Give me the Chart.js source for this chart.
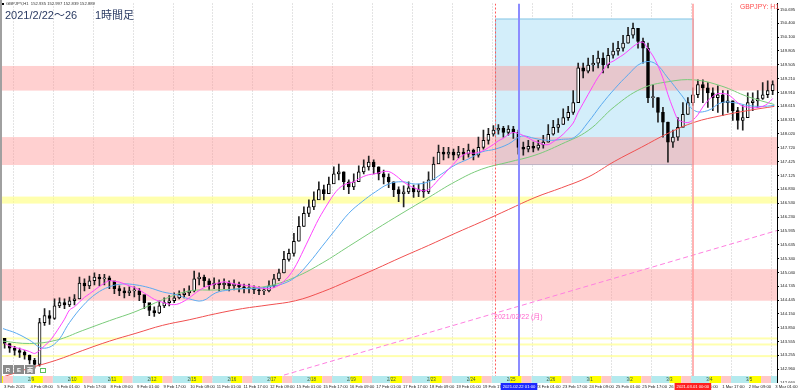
<!DOCTYPE html>
<html lang="ja">
<head>
<meta charset="UTF-8">
<title>GBPJPY H1</title>
<script src="https://cdn.jsdelivr.net/npm/chart.js"></script>
<style>
  html, body { margin: 0; padding: 0; background: #fff; }
  canvas { display: block; }
</style>
</head>
<body>
<canvas id="chart" width="800" height="390"></canvas>
<script>
// ---- データ (3時間ごとのローソク足、値はチャートから読み取り) ----
const barStep = 3;
const firstOpen = 143.62;
const closes = [
  143.51,143.41,143.36,143.32,143.26,143.15,143.06,143.96,144.11,144.05,
  144.32,144.39,144.34,144.43,144.47,144.81,144.75,144.86,144.94,144.90,
  144.92,144.86,144.69,144.64,144.60,144.64,144.64,144.56,144.39,144.22,
  144.17,144.32,144.39,144.43,144.49,144.56,144.60,144.64,144.90,144.94,
  144.86,144.77,144.81,144.77,144.81,144.75,144.79,144.73,144.69,144.71,
  144.66,144.64,144.64,144.75,144.90,145.03,145.32,145.45,145.71,146.03,
  146.31,146.45,146.60,146.82,146.73,146.94,147.16,147.20,146.99,146.88,
  146.99,147.20,147.31,147.41,147.31,147.16,147.09,146.99,146.82,146.73,
  146.77,146.86,146.77,146.82,146.77,147.03,147.37,147.63,147.58,147.63,
  147.56,147.63,147.58,147.67,147.56,147.73,147.88,148.01,148.10,148.14,
  148.05,148.12,148.05,147.73,147.69,147.75,147.71,147.78,147.84,148.01,
  148.16,148.22,148.37,148.48,148.69,149.44,149.37,149.50,149.54,149.65,
  149.50,149.71,149.80,149.86,149.97,150.14,150.29,150.01,149.86,148.80,
  148.80,148.48,148.27,147.84,147.95,148.16,148.44,148.69,148.86,149.08,
  149.01,148.90,148.80,148.86,148.69,148.73,148.52,148.31,148.37,148.69,
  148.73,148.78,148.86,148.95,149.08
];
const highs = [
  143.62,143.51,143.45,143.41,143.36,143.26,143.19,144.05,144.26,144.22,
  144.47,144.49,144.47,144.51,144.56,144.94,144.90,144.96,145.03,145.00,
  145.00,144.96,144.81,144.75,144.71,144.73,144.73,144.69,144.54,144.37,
  144.30,144.43,144.49,144.54,144.60,144.64,144.69,144.75,145.07,145.03,
  144.98,144.90,144.92,144.88,144.90,144.86,144.88,144.83,144.79,144.79,
  144.75,144.73,144.71,144.86,145.00,145.11,145.49,145.54,145.88,146.24,
  146.45,146.60,146.77,146.99,146.92,147.09,147.31,147.37,147.20,147.03,
  147.16,147.33,147.46,147.54,147.46,147.31,147.24,147.16,146.99,146.88,
  146.90,146.99,146.92,146.94,146.99,147.20,147.52,147.78,147.73,147.73,
  147.69,147.75,147.71,147.80,147.69,147.95,148.10,148.14,148.20,148.22,
  148.18,148.20,148.18,148.10,147.84,147.88,147.84,147.88,147.99,148.22,
  148.31,148.35,148.56,148.61,148.95,149.54,149.54,149.65,149.71,149.80,
  149.76,149.86,149.97,150.01,150.14,150.31,150.40,150.29,150.08,149.97,
  149.08,148.80,148.59,148.27,148.10,148.37,148.69,148.80,149.01,149.18,
  149.18,149.12,149.01,149.05,148.95,148.95,148.73,148.59,148.63,148.90,
  148.90,148.95,149.12,149.16,149.16
];
const lows = [
  143.41,143.32,143.26,143.21,143.17,143.07,142.98,143.02,143.90,143.92,
  144.03,144.28,144.26,144.30,144.34,144.47,144.64,144.69,144.77,144.75,
  144.77,144.69,144.58,144.54,144.49,144.54,144.51,144.43,144.26,144.11,
  144.09,144.15,144.28,144.32,144.39,144.47,144.49,144.54,144.62,144.77,
  144.73,144.66,144.69,144.64,144.69,144.64,144.66,144.62,144.60,144.60,
  144.58,144.56,144.56,144.62,144.71,144.86,145.03,145.28,145.39,145.71,
  146.03,146.24,146.39,146.67,146.60,146.77,146.99,147.03,146.82,146.73,
  146.82,147.03,147.16,147.24,147.16,147.03,146.94,146.86,146.67,146.56,
  146.45,146.73,146.65,146.67,146.65,146.73,147.09,147.41,147.46,147.50,
  147.46,147.50,147.46,147.52,147.46,147.52,147.69,147.80,147.97,148.01,
  147.95,147.99,147.92,147.58,147.56,147.63,147.63,147.67,147.71,147.84,
  147.99,148.05,148.22,148.31,148.44,148.69,149.22,149.33,149.37,149.44,
  149.33,149.44,149.65,149.71,149.80,149.97,150.08,149.86,149.54,148.69,
  148.59,148.27,147.95,147.41,147.73,147.88,148.20,148.44,148.63,148.80,
  148.69,148.59,148.52,148.48,148.41,148.48,148.31,148.12,148.10,148.48,
  148.52,148.59,148.76,148.80,148.86
];

// 移動平均線 (赤・緑は16時間ごと、青は8時間ごとに読み取り)
const maRed = [142.79,142.98,143.15,143.36,143.56,143.73,143.90,144.02,144.15,144.26,
  144.34,144.43,144.62,144.86,145.11,145.37,145.62,145.88,146.13,146.39,
  146.65,146.86,147.09,147.43,147.73,148.03,148.27,148.41,148.52,148.61];
const maGreen = [143.56,143.51,143.58,143.79,144.00,144.20,144.45,144.64,144.66,144.69,
  144.75,144.94,145.24,145.60,145.96,146.31,146.65,146.99,147.26,147.41,
  147.56,147.80,148.09,148.61,148.99,149.14,149.18,149.05,148.82,148.65];
const maBlue = [143.83,143.73,143.58,143.41,143.53,143.96,144.32,144.58,144.73,144.79,
  144.77,144.71,144.62,144.56,144.47,144.43,144.60,144.66,144.69,144.69,
  144.73,144.79,144.94,145.24,145.60,145.96,146.31,146.56,146.77,146.94,
  146.99,146.94,146.99,147.16,147.35,147.48,147.63,147.69,147.80,147.97,
  147.92,147.88,147.90,147.95,148.27,148.65,148.99,149.29,149.54,149.54,
  149.22,148.86,148.52,148.52,148.69,148.69,148.63,148.61,148.63];
const maFastPeriod = 7;

const yTicks = [150.695,150.400,150.100,149.805,149.505,149.210,148.910,148.615,148.315,148.020,
  147.720,147.425,147.125,146.830,146.530,146.230,145.935,145.635,145.340,145.040,
  144.745,144.445,144.150,143.850,143.555,143.255,142.960,142.660];
const timeLabels = ['3 Feb 2021','4 Feb 09:00','5 Feb 01:00','5 Feb 17:00','8 Feb 09:00','9 Feb 01:00',
  '9 Feb 17:00','10 Feb 09:00','11 Feb 01:00','11 Feb 17:00','12 Feb 09:00','15 Feb 01:00',
  '15 Feb 17:00','16 Feb 09:00','17 Feb 01:00','17 Feb 17:00','18 Feb 09:00','19 Feb 01:00',
  '19 Feb 17:00','22 Feb 09:00','23 Feb 01:00','23 Feb 17:00','24 Feb 09:00','25 Feb 01:00',
  '25 Feb 17:00','26 Feb 09:00','1 Mar 01:00','1 Mar 17:00','2 Mar 09:00','3 Mar 01:00'];
const dayLabels = ['2/9','2/10','2/11','2/12','2/15','2/16','2/17','2/18','2/19','2/22',
  '2/23','2/24','2/25','2/26','3/1','3/2','3/3','3/4','3/5'];

const pinkZones = [[149.48,148.95],[147.95,147.35],[145.11,144.43]];
const yellowZones = [[146.67,146.52],[143.64,143.60],[143.51,143.47],[143.26,143.22]];
const boxTimes = [296, 415];
const boxPrices = [150.50, 147.37];
const markDotted = 296, markBlue = 310.4, markRed = 415;
const trendLine = [[169, 142.83], [465.6, 145.94]];

// ---- 組み立て ----
const opens = closes.map((c, i) => i ? closes[i - 1] : firstOpen);
const barX = closes.map((c, i) => i * barStep + 1);
const fastMa = closes.map((c, i) => {
  const s = closes.slice(Math.max(0, i - maFastPeriod + 1), i + 1);
  return s.reduce((a, b) => a + b, 0) / s.length;
});
const line = (hours, vals) => vals.map((v, i) => ({ x: hours(i), y: v }));

const overlay = {
  id: 'overlay',
  beforeDatasetsDraw(chart) {
    const { ctx, chartArea: a, scales: { x, y } } = chart;
    ctx.save();
    // 日区切り
    ctx.strokeStyle = '#c8c8c8';
    ctx.setLineDash([1, 2]);
    for (let h = 6; h < 470; h += 24) {
      const px = Math.round(x.getPixelForValue(h)) + 0.5;
      ctx.beginPath(); ctx.moveTo(px, a.top); ctx.lineTo(px, a.bottom); ctx.stroke();
    }
    ctx.setLineDash([]);
    // 四角形
    const bx0 = x.getPixelForValue(boxTimes[0]), bx1 = x.getPixelForValue(boxTimes[1]);
    const by0 = y.getPixelForValue(boxPrices[0]), by1 = y.getPixelForValue(boxPrices[1]);
    ctx.fillStyle = '#d3eefa';
    ctx.fillRect(bx0, by0, bx1 - bx0, by1 - by0);
    ctx.strokeStyle = '#8cc8e6';
    ctx.strokeRect(bx0 + 0.5, by0 + 0.5, bx1 - bx0, by1 - by0);
    // ゾーン
    ctx.fillStyle = 'rgba(255,150,150,0.45)';
    pinkZones.forEach(([p0, p1]) => {
      const y0 = y.getPixelForValue(p0), y1 = y.getPixelForValue(p1);
      ctx.fillRect(a.left, y0, a.right - a.left, y1 - y0);
    });
    ctx.fillStyle = 'rgba(255,255,120,0.6)';
    yellowZones.forEach(([p0, p1]) => {
      const y0 = y.getPixelForValue(p0), y1 = y.getPixelForValue(p1);
      ctx.fillRect(a.left, y0, a.right - a.left, Math.max(2, y1 - y0));
    });
    ctx.restore();
  },
  afterDatasetsDraw(chart) {
    const { ctx, chartArea: a, scales: { x, y } } = chart;
    ctx.save();
    ctx.beginPath(); ctx.rect(a.left, a.top, a.right - a.left, a.bottom - a.top); ctx.clip();
    // トレンドライン
    ctx.strokeStyle = '#ff80e0';
    ctx.lineWidth = 1;
    ctx.setLineDash([5, 3]);
    ctx.beginPath();
    ctx.moveTo(x.getPixelForValue(trendLine[0][0]), y.getPixelForValue(trendLine[0][1]));
    ctx.lineTo(x.getPixelForValue(trendLine[1][0]), y.getPixelForValue(trendLine[1][1]));
    ctx.stroke();
    // 縦線
    ctx.setLineDash([2, 2]);
    ctx.strokeStyle = '#ff5a5a';
    let px = Math.round(x.getPixelForValue(markDotted)) + 0.5;
    ctx.beginPath(); ctx.moveTo(px, a.top); ctx.lineTo(px, a.bottom); ctx.stroke();
    ctx.setLineDash([]);
    ctx.strokeStyle = '#8c8cff'; ctx.lineWidth = 2;
    px = Math.round(x.getPixelForValue(markBlue));
    ctx.beginPath(); ctx.moveTo(px, a.top); ctx.lineTo(px, a.bottom); ctx.stroke();
    ctx.strokeStyle = '#ff9a9a'; ctx.lineWidth = 1.5;
    px = Math.round(x.getPixelForValue(markRed));
    ctx.beginPath(); ctx.moveTo(px, a.top); ctx.lineTo(px, a.bottom); ctx.stroke();
    // ラベル
    ctx.fillStyle = '#ff66cc';
    ctx.font = '7px "Liberation Sans", "Noto Sans CJK JP", sans-serif';
    ctx.textBaseline = 'middle';
    ctx.fillText('2021/02/22 (月)', x.getPixelForValue(markDotted) - 1, 317);
    ctx.restore();
  },
  afterDraw(chart) {
    const { ctx, chartArea: a, scales: { x } } = chart;
    ctx.save();
    // 日付帯 (東京・ロンドン・NY)
    const sy = 376, sh = 7;
    const seg = [[0, 11, '#b4eaee'], [11, 18, '#ffff00'], [18, 24, '#ffc8c8']];
    for (let d = -1; d < 20; d++) {
      const h0 = 6 + 24 * d;
      seg.forEach(([s, e, c]) => {
        const x0 = Math.max(a.left, x.getPixelForValue(h0 + s));
        const x1 = Math.min(a.right, x.getPixelForValue(h0 + e));
        if (x1 > x0) { ctx.fillStyle = c; ctx.fillRect(x0, sy, x1 - x0, sh); }
      });
    }
    ctx.fillStyle = '#3a5a3a';
    ctx.font = '4.5px "Liberation Sans", sans-serif';
    ctx.textBaseline = 'middle';
    dayLabels.forEach((t, d) => ctx.fillText(t, x.getPixelForValue(6 + 24 * d + 9), sy + 3.5));
    // 時間軸ラベル
    ctx.fillStyle = '#fff';
    ctx.fillRect(0, a.bottom, 800, 390 - a.bottom);
    ctx.fillStyle = '#222';
    ctx.font = '4.2px "Liberation Sans", sans-serif';
    timeLabels.forEach((t, k) => ctx.fillText(t, x.getPixelForValue(16 * k) + 1, a.bottom + 4));
    const tag = (h, text, bg) => {
      const w = ctx.measureText(text).width + 4;
      const cx = x.getPixelForValue(h);
      ctx.fillStyle = bg; ctx.fillRect(cx - w / 2, a.bottom, w, 7);
      ctx.fillStyle = '#fff'; ctx.fillText(text, cx - w / 2 + 2, a.bottom + 4);
    };
    tag(markBlue, '2021.02.22 01:00', '#1e28ff');
    tag(markRed, '2021.03.01 00:00', '#ff2020');
    // 左端
    ctx.fillStyle = '#a0a0a0';
    ctx.fillRect(0, 0, 2, a.bottom);
    // R E 両 ボタン
    ctx.font = 'bold 6px "Liberation Sans", "Noto Sans CJK JP", sans-serif';
    ctx.textAlign = 'center';
    [['R', 3], ['E', 14], ['両', 25]].forEach(([t, bx]) => {
      ctx.fillStyle = '#8a8a8a'; ctx.fillRect(bx, 365, 10, 9);
      ctx.fillStyle = '#fff'; ctx.fillText(t, bx + 5, 370);
    });
    ctx.strokeStyle = '#5cbf5c'; ctx.lineWidth = 1;
    ctx.strokeRect(40.5, 368.5, 5, 4);
    ctx.textAlign = 'left';
    // ヘッダー
    ctx.fillStyle = '#000';
    ctx.fillRect(2, 3, 2, 2);
    ctx.fillStyle = '#333';
    ctx.font = '4.2px "Liberation Sans", sans-serif';
    ctx.fillText('GBPJPY,H1  152.935 152.997 152.839 152.889', 6, 4);
    ctx.fillStyle = '#2b3b63';
    ctx.font = '11px "Liberation Sans", "Noto Sans CJK JP", sans-serif';
    ctx.fillText('2021/2/22～26', 5, 16);
    ctx.fillText('1時間足', 95, 16);
    ctx.fillStyle = '#ff4d4d';
    ctx.font = '6.8px "Liberation Sans", sans-serif';
    ctx.fillText('GBPJPY: H1', 740, 7);
    ctx.restore();
  }
};

new Chart(document.getElementById('chart'), {
  data: {
    datasets: [
      {
        type: 'line', label: 'MA fast', order: 0,
        data: fastMa.map((v, i) => ({ x: barX[i], y: v })),
        borderColor: '#ff44ff', borderWidth: 1, pointRadius: 0, tension: 0.3
      },
      {
        type: 'line', label: 'MA mid', order: 0,
        data: line(i => i * 8, maBlue),
        borderColor: '#5aaaf0', borderWidth: 1, pointRadius: 0, tension: 0.4
      },
      {
        type: 'line', label: 'MA slow', order: 0,
        data: line(i => i * 16, maGreen),
        borderColor: '#7acb7a', borderWidth: 1, pointRadius: 0, tension: 0.4
      },
      {
        type: 'line', label: 'MA long', order: 0,
        data: line(i => i * 16, maRed),
        borderColor: '#f05050', borderWidth: 1, pointRadius: 0, tension: 0.4
      },
      {
        type: 'bar', label: 'body', order: 1, grouped: false,
        data: closes.map((c, i) => ({ x: barX[i], y: [opens[i], c] })),
        barThickness: 3, minBarLength: 1,
        backgroundColor: c => closes[c.dataIndex] >= opens[c.dataIndex] ? '#ffffff' : '#000000',
        borderColor: '#000', borderWidth: 1, borderSkipped: false
      },
      {
        type: 'bar', label: 'wick', order: 2, grouped: false,
        data: closes.map((c, i) => ({ x: barX[i], y: [lows[i], highs[i]] })),
        barThickness: 1, backgroundColor: '#222'
      }
    ]
  },
  options: {
    responsive: false,
    animation: false,
    layout: { padding: { left: 0, right: 0, top: 0, bottom: 7 } },
    plugins: { legend: { display: false }, tooltip: { enabled: false } },
    scales: {
      x: { type: 'linear', min: -1.8, max: 465.6, offset: false, display: false },
      y: {
        type: 'linear', position: 'right', min: 142.66, max: 150.823,
        afterBuildTicks: s => { s.ticks = yTicks.map(v => ({ value: v })); },
        afterFit: s => { s.width = 23; },
        grid: { drawOnChartArea: false, drawTicks: true, tickLength: 2, color: '#000' },
        border: { display: true, color: '#000' },
        ticks: {
          autoSkip: false, padding: 1, color: '#222',
          font: { size: 4.2, family: '"Liberation Sans", sans-serif' },
          callback: v => v.toFixed(3)
        }
      }
    }
  },
  plugins: [overlay]
});
</script>
</body>
</html>
